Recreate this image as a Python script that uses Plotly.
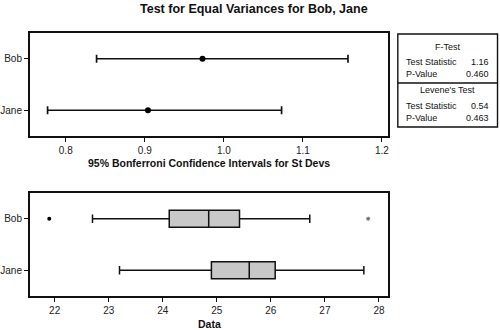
import plotly.graph_objects as go

# ---- data ----
groups = ["Bob", "Jane"]
sd_est = [0.973, 0.904]
ci_low = [0.839, 0.777]
ci_high = [1.157, 1.073]

box_q1 = [24.12, 24.90]
box_med = [24.85, 25.60]
box_q3 = [25.42, 26.08]
box_lo = [22.70, 23.20]
box_hi = [26.72, 27.72]
outlier_dot_x = [21.90]
outlier_dot_y = ["Bob"]
outlier_star_x = [27.80]
outlier_star_y = ["Bob"]

ci_ticks = [0.8, 0.9, 1.0, 1.1, 1.2]
ci_ticklabels = ["0.8", "0.9", "1.0", "1.1", "1.2"]
data_ticks = [22, 23, 24, 25, 26, 27, 28]

test_names = ["F-Test", "Levene's Test"]
test_stat = ["1.16", "0.54"]
p_values = ["0.460", "0.463"]

W, H = 500, 330
FONT = "Liberation Sans, Arial, sans-serif"

fig = go.Figure()

# CI error bars
fig.add_trace(go.Scatter(
    x=sd_est, y=groups, mode="markers",
    marker=dict(color="black", size=6),
    error_x=dict(type="data", symmetric=False,
                 array=[h - m for h, m in zip(ci_high, sd_est)],
                 arrayminus=[m - l for m, l in zip(sd_est, ci_low)],
                 color="#111", thickness=1.7, width=4),
    xaxis="x", yaxis="y", showlegend=False, hoverinfo="skip"))

# Box plots
for i, g in enumerate(groups):
    fig.add_trace(go.Box(
        y=[g], q1=[box_q1[i]], median=[box_med[i]], q3=[box_q3[i]],
        lowerfence=[box_lo[i]], upperfence=[box_hi[i]],
        orientation="h", width=0.33, boxpoints=False,
        fillcolor="#c8c8c8", line=dict(color="#111", width=1.5),
        xaxis="x2", yaxis="y2", showlegend=False, hoverinfo="skip"))

fig.add_trace(go.Scatter(
    x=outlier_dot_x, y=outlier_dot_y, mode="markers",
    marker=dict(color="black", size=4, symbol="circle"),
    xaxis="x2", yaxis="y2", showlegend=False, hoverinfo="skip"))
fig.add_trace(go.Scatter(
    x=outlier_star_x, y=outlier_star_y, mode="markers",
    marker=dict(color="#666", size=3.5, symbol="asterisk-open", line=dict(width=1, color="#666")),
    xaxis="x2", yaxis="y2", showlegend=False, hoverinfo="skip"))

def px_x(v):
    return v / W

def px_y(v):
    return 1 - v / H

axis_common = dict(showline=True, linecolor="#111", linewidth=1.6, mirror=True,
                   ticks="outside", ticklen=4, tickcolor="#111", tickwidth=1,
                   showgrid=False, zeroline=False,
                   tickfont=dict(family=FONT, size=10, color="#222"))

fig.update_layout(
    width=W, height=H, margin=dict(l=0, r=0, t=0, b=0),
    paper_bgcolor="white", plot_bgcolor="white",
    font=dict(family=FONT, color="#111"),
    xaxis=dict(domain=[px_x(27), px_x(388)], range=[0.7545, 1.2075],
               tickvals=ci_ticks, ticktext=ci_ticklabels, anchor="y", **axis_common),
    yaxis=dict(domain=[px_y(136), px_y(33)], type="category",
               categoryorder="array", categoryarray=["Jane", "Bob"],
               range=[-0.5, 1.5], anchor="x", **axis_common),
    xaxis2=dict(domain=[px_x(27), px_x(388)], range=[21.54, 28.165],
                tickvals=data_ticks, anchor="y2", **axis_common),
    yaxis2=dict(domain=[px_y(296), px_y(193)], type="category",
                categoryorder="array", categoryarray=["Jane", "Bob"],
                range=[-0.5, 1.5], anchor="x2", **axis_common),
)

ann = []
ann.append(dict(text="<b>Test for Equal Variances for Bob, Jane</b>", x=px_x(253), y=px_y(9),
                xref="paper", yref="paper", showarrow=False, xanchor="center", yanchor="middle",
                font=dict(family=FONT, size=12.5, color="#111")))
ann.append(dict(text="<b>95% Bonferroni Confidence Intervals for St Devs</b>", x=px_x(208), y=px_y(163),
                xref="paper", yref="paper", showarrow=False, xanchor="center", yanchor="middle",
                font=dict(family=FONT, size=10.5, color="#111")))
ann.append(dict(text="<b>Data</b>", x=px_x(208), y=px_y(324),
                xref="paper", yref="paper", showarrow=False, xanchor="center", yanchor="middle",
                font=dict(family=FONT, size=10.5, color="#111")))

# stats table
tx0, tx1 = 398, 498.5
ty = [34, 83, 127]
row_y = [[47, 62, 74], [90, 106, 118]]
shapes = [dict(type="rect", xref="paper", yref="paper", x0=px_x(tx0), x1=px_x(tx1),
               y0=px_y(ty[2]), y1=px_y(ty[0]), line=dict(color="#111", width=1.4)),
          dict(type="line", xref="paper", yref="paper", x0=px_x(tx0), x1=px_x(tx1),
               y0=px_y(ty[1]), y1=px_y(ty[1]), line=dict(color="#111", width=1.4))]
tf = dict(family=FONT, size=9, color="#111")
for k in range(2):
    ann.append(dict(text=test_names[k], x=px_x((tx0 + tx1) / 2), y=px_y(row_y[k][0]),
                    xref="paper", yref="paper", showarrow=False, xanchor="center", yanchor="middle", font=tf))
    ann.append(dict(text="Test Statistic", x=px_x(404), y=px_y(row_y[k][1]),
                    xref="paper", yref="paper", showarrow=False, xanchor="left", yanchor="middle", font=tf))
    ann.append(dict(text=test_stat[k], x=px_x(492), y=px_y(row_y[k][1]),
                    xref="paper", yref="paper", showarrow=False, xanchor="right", yanchor="middle", font=tf))
    ann.append(dict(text="P-Value", x=px_x(404), y=px_y(row_y[k][2]),
                    xref="paper", yref="paper", showarrow=False, xanchor="left", yanchor="middle", font=tf))
    ann.append(dict(text=p_values[k], x=px_x(492), y=px_y(row_y[k][2]),
                    xref="paper", yref="paper", showarrow=False, xanchor="right", yanchor="middle", font=tf))

fig.update_layout(annotations=ann, shapes=shapes)
fig.write_html("out.html")
